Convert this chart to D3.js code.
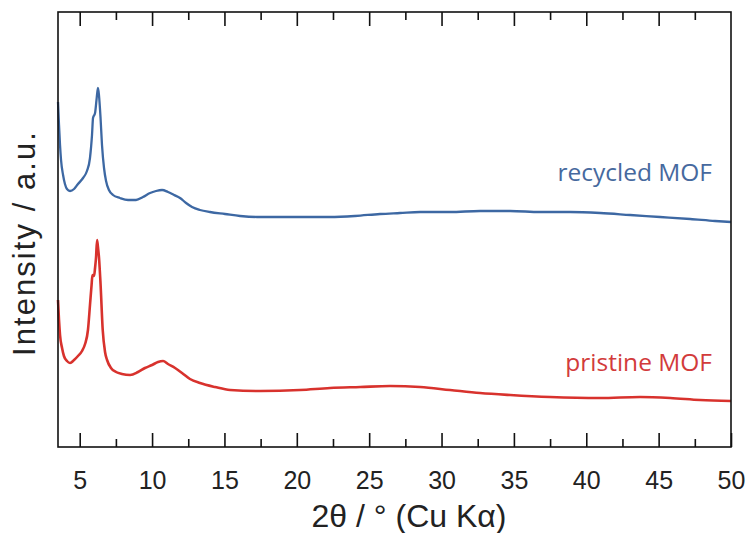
<!DOCTYPE html>
<html><head><meta charset="utf-8">
<script src="https://cdn.jsdelivr.net/npm/d3@7"></script>
<style>body{margin:0;background:#fff}svg{display:block}</style>
</head><body>
<svg id="c" width="752" height="533"></svg>
<script>
// 2θ (degrees) and intensity (arbitrary units)
const recycled2theta = [3.50,3.57,3.64,3.71,3.85,3.98,4.12,4.33,4.61,4.88,5.23,5.50,5.71,5.85,5.92,6.06,6.16,6.26,6.33,6.44,6.54,6.68,6.82,7.02,7.30,7.78,8.34,8.89,9.37,9.86,10.27,10.69,11.10,11.52,11.93,12.35,12.76,13.31,14.00,15.04,16.08,17.25,18.84,20.22,22.30,24.02,25.75,27.13,28.52,30.59,32.66,34.74,36.81,38.88,40.96,43.03,45.10,47.18,48.90,50.00];
const recycledI = [345,322,302,287,272,263,258,256,258,263,269,276,289,312,329,334,347,359,352,329,302,279,266,257,252,249,247,247,250,254,256,257,255,252,249,244,240,237,235,233,231,230,230,230,230,231,233,234,235,235,236,236,235,235,234,232,230,228,226,225];
const pristine2theta = [3.50,3.57,3.64,3.78,3.91,4.12,4.33,4.61,4.88,5.16,5.37,5.57,5.71,5.82,5.88,5.99,6.06,6.13,6.20,6.26,6.33,6.44,6.59,6.75,6.89,7.16,7.51,7.92,8.48,9.03,9.51,10.00,10.41,10.76,11.10,11.59,12.07,12.62,13.31,14.35,15.39,17.46,20.22,22.30,24.38,26.44,28.52,30.59,32.66,34.74,37.50,40.96,43.72,45.80,47.87,50.00];
const pristineI = [147,127,112,99,91,86,84,87,91,96,103,117,142,162,172,171,179,190,207,200,190,163,117,95,87,79,75,73,72,75,79,82,85,86,83,79,74,68,64,60,57,56,57,59,60,61,60,57,54,52,50,49,50,49,47,46];
const majorTicks = [5,10,15,20,25,30,35,40,45,50];
const minorTicks = [7.5,12.5,17.5,22.5,27.5,32.5,37.5,42.5,47.5];
const seriesLabels = ["recycled MOF","pristine MOF"];

const svg = d3.select("#c");
const L=58, R=731, T=12, B=447;
const x = d3.scaleLinear().domain([3.5,50]).range([L,R]);
const y = d3.scaleLinear().domain([0,435]).range([B,T]);

const line = d3.line().x(d=>x(d[0])).y(d=>y(d[1])).curve(d3.curveMonotoneX);
const blue = "#3d68a3", red = "#d8322d";

svg.append("path").datum(d3.zip(recycled2theta, recycledI)).attr("d", line)
  .attr("fill","none").attr("stroke",blue).attr("stroke-width",2.3).attr("stroke-linejoin","round");
svg.append("path").datum(d3.zip(pristine2theta, pristineI)).attr("d", line)
  .attr("fill","none").attr("stroke",red).attr("stroke-width",2.6).attr("stroke-linejoin","round");

// frame
svg.append("rect").attr("x",L).attr("y",T).attr("width",R-L).attr("height",B-T)
  .attr("fill","none").attr("stroke","#111").attr("stroke-width",1.6);

// bottom axis
const gBottom = svg.append("g").attr("transform",`translate(0,${B})`)
  .call(d3.axisBottom(x).tickValues(majorTicks).tickSizeInner(-14).tickSizeOuter(0).tickPadding(24));
const gBottomMinor = svg.append("g").attr("transform",`translate(0,${B})`)
  .call(d3.axisBottom(x).tickValues(minorTicks).tickSizeInner(-8).tickSizeOuter(0).tickFormat(""));
// top axis
const gTop = svg.append("g").attr("transform",`translate(0,${T})`)
  .call(d3.axisTop(x).tickValues(majorTicks.filter(v=>v<50)).tickSizeInner(-14).tickSizeOuter(0).tickFormat(""));
const gTopMinor = svg.append("g").attr("transform",`translate(0,${T})`)
  .call(d3.axisTop(x).tickValues(minorTicks).tickSizeInner(-8).tickSizeOuter(0).tickFormat(""));
[gBottom,gBottomMinor,gTop,gTopMinor].forEach(g=>{
  g.select(".domain").remove();
  g.selectAll(".tick line").attr("stroke","#111").attr("stroke-width",1.6);
});
gBottom.selectAll(".tick text").attr("font-family","'Liberation Sans',Arial,sans-serif")
  .attr("font-size",25).attr("fill","#222").attr("dy","0.71em");

// axis titles
svg.append("text").attr("x",409).attr("y",527).attr("text-anchor","middle")
  .attr("font-family","'Liberation Sans',Arial,sans-serif").attr("font-size",32).attr("fill","#222")
  .text("2θ / ° (Cu Kα)");
svg.append("text").attr("transform","translate(35,244) rotate(-90)").attr("text-anchor","middle")
  .attr("font-family","'Liberation Sans',Arial,sans-serif").attr("font-size",31).attr("fill","#222")
  .attr("textLength",224).attr("lengthAdjust","spacing")
  .text("Intensity / a.u.");

// series labels
svg.append("text").attr("x",712).attr("y",181).attr("text-anchor","end")
  .attr("font-family","'Open Sans',Lato,sans-serif").attr("font-size",24.5).attr("fill","#46699e")
  .text(seriesLabels[0]);
svg.append("text").attr("x",712).attr("y",371).attr("text-anchor","end")
  .attr("font-family","'Open Sans',Lato,sans-serif").attr("font-size",24.5).attr("fill","#d23b3b")
  .text(seriesLabels[1]);
</script>
</body></html>
